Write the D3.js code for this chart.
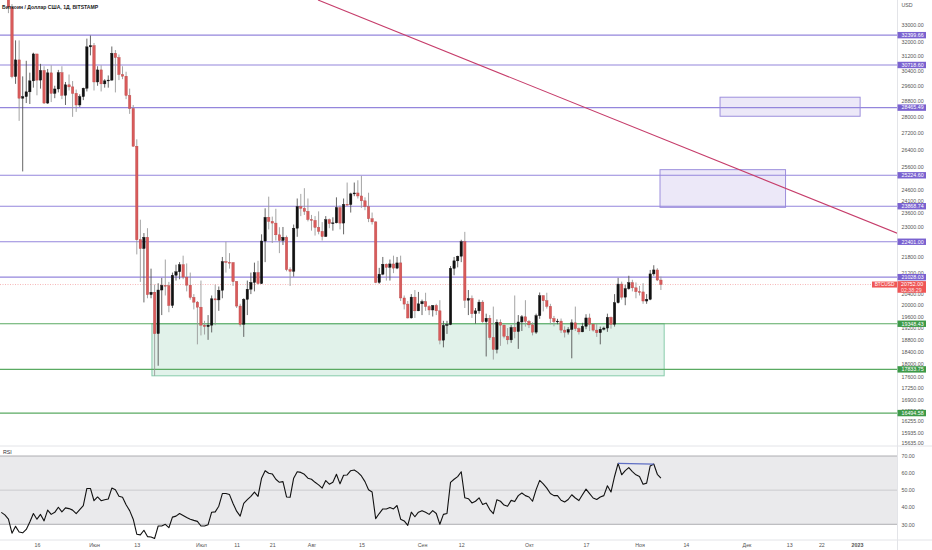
<!DOCTYPE html>
<html>
<head>
<meta charset="utf-8">
<script src="https://cdn.jsdelivr.net/npm/d3@7"></script>
<style>
  body { margin: 0; background: #fff; }
  svg { display: block; font-family: "Liberation Sans", Arial, sans-serif; }
</style>
</head>
<body>
<svg id="chart" width="932" height="550"></svg>
<script>
// Bitstamp BTC/USD daily candles, 6 May 2022 .. 7 Nov 2022
var firstDay = "2022-05-06";
var lastDay = "2022-11-07";

var opens = [
  36550,36000,35470,34060,30090,31000,28950,29030,29280,29860,31330,29900,30420,28700,30290,29200,29430,30300,29100,29650,29540,29200,28600,29030,29470,31730,
  31800,29800,30450,29700,29860,29900,31370,31130,30200,30110,29090,28420,26570,22480,22130,22580,20380,20470,19010,20550,20720,20710,19990,21100,21230,21500,21030,20730,20280,20110,
  19930,19300,19250,19300,20230,20190,20540,21620,21590,21580,20860,19970,19330,20210,20580,20830,21200,20790,22430,23400,23230,23160,22680,22450,22580,21310,21250,22950,23850,23780,23650,
  23310,23270,22980,22820,22610,23300,23140,23170,23810,23160,23950,23940,24400,24440,24310,24100,23850,23340,23210,20830,21140,21520,21400,21530,21370,21570,20260,20040,19550,20290,19800,
  20050,20130,19950,19830,19990,19800,18790,19290,19320,21360,21650,21830,22400,20180,20240,19700,19800,20110,19420,19540,18880,18480,19400,19300,18920,18800,19220,19080,19410,19590,
  19430,19310,19060,19630,20340,20160,19960,19530,19420,19440,19130,19060,19150,19380,19180,19070,19260,19550,19330,19130,19040,19160,19200,19570,19330,20090,20770,20290,20600,20820,20630,
  20490,20480,20150,20210,21150,21300,20920
];
var highs = [
  36650,36100,35500,34250,32100,32100,30100,30950,30300,31400,31330,30780,30650,30500,30700,29600,30450,30650,29800,30200,29850,29400,29150,29500,32200,32380,
  31950,30650,30700,29950,30150,31750,31550,31300,30650,30350,29450,28600,26900,23300,22750,22950,21350,20750,20800,21000,21700,20850,21200,21500,21600,21850,21550,21200,20400,20150,
  20900,19450,19650,20350,20750,20680,21800,22400,21950,21600,20880,20050,20250,20900,21200,21580,21650,22700,23780,24280,23430,23760,22990,23000,22650,21400,23100,24200,24400,24650,24200,
  23500,23450,23650,23200,23450,23350,23400,24250,23900,24200,24900,24450,24900,25000,25200,24250,24450,23600,23230,21380,21800,21550,21700,21850,21800,21850,20350,20150,20400,20550,20480,
  20200,20450,20000,20000,20050,20180,19450,19450,21450,21800,21850,22480,22800,20550,20350,19900,20200,20180,19700,19650,19950,19500,19500,19320,19200,19300,20350,19650,19650,20180,
  19480,19400,19700,20460,20360,20450,20050,19620,19520,19530,19260,19230,19500,19950,19220,19380,19680,19700,19350,19350,19250,19250,19700,19600,20400,21000,20860,20750,21080,20930,20830,
  20700,20800,20400,21300,21480,21370,21050
];
var lows = [
  35300,34800,33700,30000,29700,27800,25400,28700,28650,29500,29100,29450,28650,28650,28750,28950,29250,28900,28600,29350,28000,28250,28500,28850,29300,31250,
  29350,29600,29300,29500,29500,29870,29250,29900,29950,28900,28150,26550,21900,20850,20100,20250,20250,17630,17950,19650,20350,19750,19900,20900,20950,20950,20500,20200,19850,18650,
  18950,18980,18800,19050,19300,19800,20250,21200,21350,20700,19900,19250,18900,19650,20400,20500,20750,20770,21600,22900,22350,22450,21950,22270,21250,20700,21050,22600,23450,23500,23230,
  22850,22650,22700,22450,22600,22950,22850,23150,22900,22700,23900,23600,24300,24200,23800,23700,23200,23100,20800,20780,21100,20900,20900,21180,21330,20150,19850,19530,19530,19550,19790,
  19650,19800,19650,19600,19650,18650,18550,19000,19300,21100,21400,21600,19900,19650,19550,19350,19700,19380,18250,18800,18150,18350,18600,18850,18650,18700,18850,18500,19100,19250,
  19200,18950,19000,19520,19780,19880,19330,19260,19330,19030,18880,18980,18190,19100,18980,19060,19160,19100,19080,18900,18650,19120,19070,19180,19250,20060,20200,20000,20560,20500,20250,
  20350,20050,20050,20180,21080,20880,20550
];
var closes = [
  36000,35470,34060,30090,31000,28950,29030,29280,29860,31330,29900,30420,28700,30290,29200,29430,30300,29100,29650,29540,29200,28600,29030,29470,31730,31800,
  29800,30450,29700,29860,29900,31370,31130,30200,30110,29090,28420,26570,22480,22130,22580,20380,20470,19010,20550,20720,20710,19990,21100,21230,21500,21030,20730,20280,20110,19930,
  19300,19250,19300,20230,20190,20540,21620,21590,21580,20860,19970,19330,20210,20580,20830,21200,20790,22430,23400,23230,23160,22680,22450,22580,21310,21250,22950,23850,23780,23650,23310,
  23270,22980,22820,22610,23300,23140,23170,23810,23160,23950,23940,24400,24440,24310,24100,23850,23340,23210,20830,21140,21520,21400,21530,21370,21570,20260,20040,19550,20290,19800,20050,
  20130,19950,19830,19990,19800,18790,19290,19320,21360,21650,21830,22400,20180,20240,19700,19800,20110,19420,19540,18880,18480,19400,19300,18920,18800,19220,19080,19410,19590,19430,
  19310,19060,19630,20340,20160,19960,19530,19420,19440,19130,19060,19150,19380,19180,19070,19260,19550,19330,19130,19040,19160,19200,19570,19330,20090,20770,20290,20600,20820,20630,20490,
  20480,20150,20210,21150,21300,20920,20752
];
var rsiValues = [
  37,35.5,33,24.8,28.8,25.5,25,27,31.3,36.3,33,35.8,32,38.3,35.8,37,40,37.3,39.6,39.2,38.3,36.3,38.6,41,51,51,
  43.8,46,43.8,44.4,44.8,51.2,50.2,46.4,45.8,41.5,38,33,24.2,23.8,26.5,22.8,22.6,21.7,29,29,30,28,34.2,34.8,36.3,35.2,34,33,32.3,31.7,
  29,29,29.8,37.1,37.3,40.6,48,48,47.4,42.2,37.7,34.8,42.2,44.4,46.4,48.9,46.4,57,61.4,59.9,59.5,56.4,54.6,55,46,45.8,57,60.8,60.4,59.3,57,
  56.4,54.6,53.1,51.2,55.6,53.5,54.6,59.3,53.7,58.7,58.9,61.4,61.8,60.4,58.3,55,50.2,48.9,33.3,36.3,39,39,39.8,39,41,33,32,29.4,37.1,34.4,37.1,
  38,37.1,35.8,38,36.3,30,35.8,36.3,54.6,56.4,57.9,60.8,45.5,45,42.5,43.5,45.5,41.6,42.5,38.6,36.3,44.4,43.5,41.3,40.6,44,43.3,46.8,48.3,46.8,
  46,43.5,50.3,55.7,53.7,51.2,48,46.8,46.8,44.1,43.1,44.5,47.3,45.4,43.9,47.3,50.6,48,45.4,44.5,46,46.8,52.6,48.9,58,65.7,59,61.4,63.2,60.9,59,
  58,53.5,54.1,64.2,65.3,59.3,57
];

// drawn levels and zones
var purpleLevels = [32399.66, 30718.60, 28465.49, 25224.60, 23868.74, 22401.00, 21028.03];
var greenLevels = [19348.43, 17833.75, 16494.58];
var lastPrice = 20752.00;
var countdown = "02:38:29";
var greenZone = ["2022-06-17T06:00", "2022-11-07T22:00", 19348.43, 17630];
var purpleZones = [
  ["2022-11-23T14:00", "2023-01-01T21:00", 29000, 28030],
  ["2022-11-06T18:00", "2022-12-11T23:00", 25480, 23820]
];
var trendLine = [["2022-08-02T20:00", 34500], ["2023-01-12T06:00", 22745]];
var rsiDivergence = [["2022-10-26", 65.7], ["2022-11-05", 65.3]];

// axis ticks
var priceTicks = [33000,32000,31200,30400,29600,28800,28000,27200,26400,25600,24600,24100,23600,23000,22400,21800,21200,20800,20400,20000,19600,19200,18800,18400,18000,17600,17250,16900,16550,16255,15935,15635];
var rsiTicks = [70, 60, 50, 40, 30];
var timeTicks = ["2022-05-16","2022-06-01","2022-06-13","2022-07-01","2022-07-11","2022-07-21","2022-08-01","2022-08-15","2022-09-01","2022-09-12","2022-10-01","2022-10-17","2022-11-01","2022-11-14","2022-12-01","2022-12-13","2022-12-22","2023-01-01"];
var timeTickLabels = ["16","Июн","13","Июл","11","21","Авг","15","Сен","12","Окт","17","Ноя","14","Дек","13","22","2023"];

window.onload = function () {
    var width = 932, height = 550;
    var plotRight = 897;          // left edge of the price scale
    var mainBottom = 446;         // separator between price pane and RSI pane
    var rsiBottom = 540;          // top of the time scale

    var parse = function (s) { return new Date(s + (s.length === 10 ? "T00:00:00Z" : ":00Z")); };
    var days = d3.utcDay.range(parse(firstDay), d3.utcDay.offset(parse(lastDay), 1));

    var candles = days.map(function (d, i) {
        return { date: d, o: opens[i], h: highs[i], l: lows[i], c: closes[i], rsi: rsiValues[i] };
    });

    var x = d3.scaleUtc() // one day is about 3.57 px
        .domain([parse("2022-06-01"), parse("2023-01-01")])
        .range([94, 857]);
    var y = d3.scaleLog() // price pane is logarithmic
        .domain([15497, 34500])
        .range([448, 0]);
    var yRsi = d3.scaleLinear()
        .domain([30, 70])
        .range([524.3, 456]);

    var svg = d3.select("#chart").attr("width", width).attr("height", height);
    var defs = svg.append("defs");
    defs.append("clipPath").attr("id", "clipMain").append("rect")
        .attr("x", 0).attr("y", 0).attr("width", plotRight).attr("height", mainBottom);
    defs.append("clipPath").attr("id", "clipRsi").append("rect")
        .attr("x", 0).attr("y", mainBottom).attr("width", plotRight).attr("height", rsiBottom - mainBottom);

    svg.append("rect").attr("width", width).attr("height", height).attr("fill", "#fff");

    var main = svg.append("g").attr("clip-path", "url(#clipMain)");

    // zones
    main.append("rect")
        .attr("x", x(parse(greenZone[0])))
        .attr("y", y(greenZone[2]))
        .attr("width", x(parse(greenZone[1])) - x(parse(greenZone[0])))
        .attr("height", y(greenZone[3]) - y(greenZone[2]))
        .attr("fill", "rgba(76,175,130,0.17)")
        .attr("stroke", "#86cbab").attr("stroke-width", 1);

    main.selectAll("rect.pz").data(purpleZones).join("rect")
        .attr("class", "pz")
        .attr("x", function (z) { return x(parse(z[0])); })
        .attr("y", function (z) { return y(z[2]); })
        .attr("width", function (z) { return x(parse(z[1])) - x(parse(z[0])); })
        .attr("height", function (z) { return y(z[3]) - y(z[2]); })
        .attr("fill", "rgba(126,99,208,0.15)")
        .attr("stroke", "#9d8fdc").attr("stroke-width", 1);

    // horizontal levels
    main.selectAll("line.pl").data(purpleLevels).join("line")
        .attr("class", "pl")
        .attr("x1", 0).attr("x2", plotRight)
        .attr("y1", function (p) { return y(p); }).attr("y2", function (p) { return y(p); })
        .attr("stroke", "#9486dc").attr("stroke-width", 1.1);
    main.selectAll("line.gl").data(greenLevels).join("line")
        .attr("class", "gl")
        .attr("x1", 0).attr("x2", plotRight)
        .attr("y1", function (p) { return y(p); }).attr("y2", function (p) { return y(p); })
        .attr("stroke", "#5aaa62").attr("stroke-width", 1.1);

    // last price line
    main.append("line")
        .attr("x1", 0).attr("x2", plotRight)
        .attr("y1", y(lastPrice)).attr("y2", y(lastPrice))
        .attr("stroke", "#f5a3a3").attr("stroke-width", 0.8).attr("stroke-dasharray", "1,1.5");

    // candles
    var bw = 2.4;
    var cg = main.append("g").selectAll("g").data(candles).join("g");
    cg.append("line")
        .attr("x1", function (d) { return x(d.date); }).attr("x2", function (d) { return x(d.date); })
        .attr("y1", function (d) { return y(d.h); }).attr("y2", function (d) { return y(d.l); })
        .attr("stroke", function (d) { return d.c >= d.o ? "#555" : "#9a9a9a"; })
        .attr("stroke-width", 0.9);
    cg.append("rect")
        .attr("x", function (d) { return x(d.date) - bw / 2; })
        .attr("width", bw)
        .attr("y", function (d) { return y(Math.max(d.o, d.c)); })
        .attr("height", function (d) { return Math.max(0.8, Math.abs(y(d.o) - y(d.c))); })
        .attr("fill", function (d) { return d.c >= d.o ? "#111" : "#d95b5b"; })
        .attr("stroke", function (d) { return d.c >= d.o ? "#111" : "#b94747"; })
        .attr("stroke-width", 0.4);

    // trend line
    main.append("line")
        .attr("x1", x(parse(trendLine[0][0]))).attr("y1", y(trendLine[0][1]))
        .attr("x2", x(parse(trendLine[1][0]))).attr("y2", y(trendLine[1][1]))
        .attr("stroke", "#c63d6b").attr("stroke-width", 1.1);

    // title
    svg.append("text")
        .attr("x", 2).attr("y", 8.5)
        .attr("font-size", 5.1).attr("font-weight", "bold").attr("fill", "#222")
        .text("Биткоин / Доллар США, 1Д, BITSTAMP");

    // RSI pane
    var rsiG = svg.append("g").attr("clip-path", "url(#clipRsi)");
    rsiG.append("rect")
        .attr("x", 0).attr("width", plotRight)
        .attr("y", yRsi(70)).attr("height", yRsi(30) - yRsi(70))
        .attr("fill", "#eaeaec");
    rsiG.selectAll("line.band").data([70, 30]).join("line")
        .attr("class", "band")
        .attr("x1", 0).attr("x2", plotRight)
        .attr("y1", function (v) { return yRsi(v); }).attr("y2", function (v) { return yRsi(v); })
        .attr("stroke", "#a6a6aa").attr("stroke-width", 0.9);
    rsiG.append("line")
        .attr("x1", 0).attr("x2", plotRight)
        .attr("y1", yRsi(50)).attr("y2", yRsi(50))
        .attr("stroke", "#c2c2c6").attr("stroke-width", 0.8);
    rsiG.append("path")
        .datum(candles)
        .attr("fill", "none").attr("stroke", "#111").attr("stroke-width", 1.1)
        .attr("stroke-linejoin", "round")
        .attr("d", d3.line().x(function (d) { return x(d.date); }).y(function (d) { return yRsi(d.rsi); }));
    rsiG.append("line")
        .attr("x1", x(parse(rsiDivergence[0][0]))).attr("y1", yRsi(rsiDivergence[0][1]))
        .attr("x2", x(parse(rsiDivergence[1][0]))).attr("y2", yRsi(rsiDivergence[1][1]))
        .attr("stroke", "#5f6fc4").attr("stroke-width", 1.2);
    svg.append("text").attr("x", 3).attr("y", 454).attr("font-size", 5.3).attr("fill", "#333").text("RSI");

    // separators
    svg.append("line").attr("x1", 0).attr("x2", width).attr("y1", mainBottom).attr("y2", mainBottom)
        .attr("stroke", "#e3e4e8").attr("stroke-width", 1);
    svg.append("line").attr("x1", 0).attr("x2", width).attr("y1", rsiBottom).attr("y2", rsiBottom)
        .attr("stroke", "#e3e4e8").attr("stroke-width", 1);
    svg.append("line").attr("x1", plotRight + 0.5).attr("x2", plotRight + 0.5).attr("y1", 0).attr("y2", height)
        .attr("stroke", "#e3e4e8").attr("stroke-width", 1);

    // price scale
    var priceAxis = svg.append("g")
        .attr("transform", "translate(" + (plotRight + 2) + ",0)")
        .call(d3.axisRight(y).tickValues(priceTicks).tickFormat(d3.format(".2f")).tickSize(0).tickPadding(2.5));
    priceAxis.select(".domain").remove();
    priceAxis.selectAll("text").attr("font-size", 5.3).attr("fill", "#555").attr("font-family", "Liberation Sans, Arial, sans-serif");

    svg.append("text").attr("x", plotRight + 4.5).attr("y", 7).attr("font-size", 5.3).attr("fill", "#555").text("USD");

    var rsiAxis = svg.append("g")
        .attr("transform", "translate(" + (plotRight + 2) + ",0)")
        .call(d3.axisRight(yRsi).tickValues(rsiTicks).tickFormat(d3.format(".2f")).tickSize(0).tickPadding(2.5));
    rsiAxis.select(".domain").remove();
    rsiAxis.selectAll("text").attr("font-size", 5.3).attr("fill", "#555").attr("font-family", "Liberation Sans, Arial, sans-serif");

    // level labels on the price scale
    function priceLabel(p, fill) {
        var g = svg.append("g").attr("transform", "translate(" + (plotRight + 0.5) + "," + y(p) + ")");
        g.append("rect").attr("x", 0).attr("y", -3.2).attr("width", 28.5).attr("height", 6.4).attr("fill", fill);
        g.append("text").attr("x", 4).attr("y", 0).attr("dy", "0.35em")
            .attr("font-size", 5.3).attr("fill", "#fff").text(d3.format(".2f")(p));
    }
    purpleLevels.forEach(function (p) { priceLabel(p, "#7a62d0"); });
    greenLevels.forEach(function (p) { priceLabel(p, "#3d9a48"); });

    // last price label
    var ly = y(lastPrice);
    svg.append("rect").attr("x", 872).attr("y", ly - 3).attr("width", 25).attr("height", 6).attr("fill", "#ef5656");
    svg.append("text").attr("x", 884.5).attr("y", ly).attr("dy", "0.35em").attr("text-anchor", "middle")
        .attr("font-size", 4.8).attr("fill", "#fff").text("BTCUSD");
    svg.append("rect").attr("x", plotRight + 0.5).attr("y", ly - 3.4).attr("width", 28.5).attr("height", 11.6).attr("fill", "#ef5656");
    svg.append("text").attr("x", plotRight + 4).attr("y", ly).attr("dy", "0.35em")
        .attr("font-size", 5.3).attr("fill", "#fff").text(d3.format(".2f")(lastPrice));
    svg.append("text").attr("x", plotRight + 4).attr("y", ly + 5.6).attr("dy", "0.35em")
        .attr("font-size", 5.3).attr("fill", "#fde3e3").text(countdown);

    // time scale
    var timeAxis = svg.append("g")
        .attr("transform", "translate(0," + rsiBottom + ")")
        .call(d3.axisBottom(x).tickValues(timeTicks.map(parse))
            .tickFormat(function (d, i) { return timeTickLabels[i]; })
            .tickSize(0).tickPadding(3));
    timeAxis.select(".domain").remove();
    timeAxis.selectAll("text").attr("font-size", 5.3).attr("fill", "#555")
        .attr("font-family", "Liberation Sans, Arial, sans-serif")
        .attr("font-weight", function (d, i) { return timeTickLabels[i] === "2023" ? "bold" : "normal"; });
};
</script>
</body>
</html>
